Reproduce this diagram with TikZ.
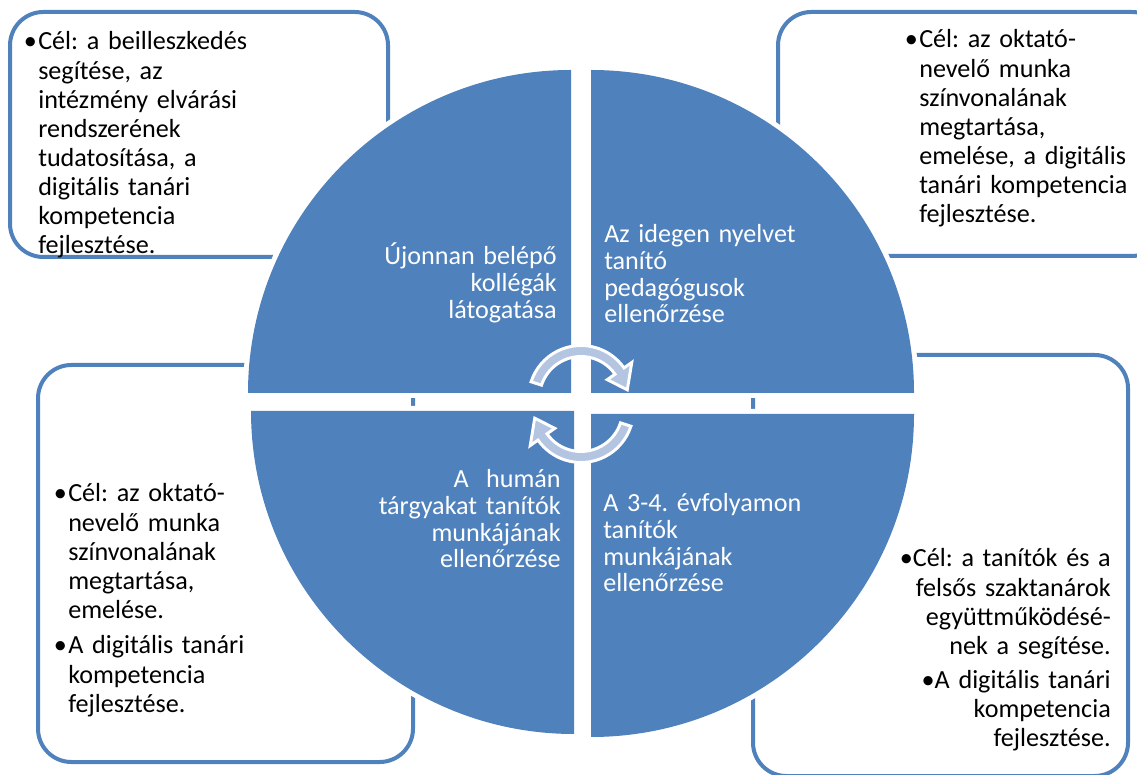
\documentclass[tikz,border=0pt]{standalone}
\usepackage{fontspec}
\setmainfont{Carlito}
\frenchspacing
\usetikzlibrary{calc}

\definecolor{qblue}{HTML}{4F81BD}
\definecolor{arrowfill}{HTML}{B4C5E1}

\tikzset{
  goalbox/.style={draw=qblue, line width=3pt, rounded corners=25pt, fill=white},
  quarter/.style={fill=qblue, preaction={draw=white, line width=7.5pt}},
  goaltext/.style={font=\fontsize{19.6}{21.8}\selectfont, inner sep=0pt, text width=300pt},
  qtext/.style={font=\fontsize{19.6}{19.9}\selectfont, text=white, inner sep=0pt, text width=220pt},
  cyclearrow/.pic={
    \path[fill=arrowfill, draw=white, line width=2.2pt, line join=miter]
      (162:52.5) arc[start angle=162, end angle=35, radius=52.5]
      -- (35:62) -- (10:47) -- (35:32) -- (35:41.5)
      arc[start angle=35, end angle=162, radius=41.5] -- cycle;
  }
}

\begin{document}
\begin{tikzpicture}[x=0.75pt, y=0.75pt]
  \useasboundingbox (0,0) rectangle (1137,774);
  \clip (0,0) rectangle (1137,774);

  % corner boxes
  \draw[goalbox] (10,517) rectangle (388,762);
  \draw[goalbox] (778,518) rectangle (1165,762);
  \draw[goalbox] (38,12) rectangle (413,409);
  \draw[goalbox] (753,-2) rectangle (1128,419);

  % the four quarters
  \path[quarter] (571,381) -- (248,381) arc[start angle=180, end angle=90, radius=323] -- cycle;
  \path[quarter] (591,381) -- (591,704) arc[start angle=90, end angle=0, radius=323] -- cycle;
  \path[quarter] (574,363) -- (251,363) arc[start angle=180, end angle=270, radius=323] -- cycle;
  \path[quarter] (591,360) -- (914,360) arc[start angle=0, end angle=-90, radius=323] -- cycle;

  % arrows in the middle
  \coordinate (cyc1) at (581,376);
  \coordinate (cyc2) at (581,364);
  \pic at (cyc1) {cyclearrow};
  \pic[rotate=180] at (cyc2) {cyclearrow};

  % texts of the quarters
  \node[qtext, anchor=base east, align=right] (ujkoll) at (557,509)
    {Újonnan belépő\\kollégák\\látogatása};
  \node[qtext, anchor=base west, align=left] (nyelv) at (604,531)
    {Az idegen nyelvet\\tanító\\pedagógusok\\ellenőrzése};
  \node[qtext, anchor=base east, align=right] (human) at (561,286)
    {A\ \ humán\hspace*{27pt}\\tárgyakat tanítók\\munkájának\\ellenőrzése};
  \node[qtext, anchor=base west, align=left] (evfolyam) at (603,262)
    {A 3-4. évfolyamon\\tanítók\\munkájának\\ellenőrzése};

  % goals in the boxes
  \node[goaltext, anchor=base west, align=left] (celUj) at (38,724)
    {\leavevmode\llap{•\kern1pt}Cél: a beilleszkedés\\segítése, az\\intézmény elvárási\\rendszerének\\tudatosítása, a\\digitális tanári\\kompetencia\\fejlesztése.};
  \node[goaltext, anchor=base west, align=left] (celNyelv) at (919,726)
    {\leavevmode\llap{•\kern1pt}Cél: az oktató-\\nevelő munka\\színvonalának\\megtartása,\\emelése, a digitális\\tanári kompetencia\\fejlesztése.};
  \node[goaltext, anchor=base west, align=left] (celHuman) at (68,272)
    {\leavevmode\llap{•\kern1pt}Cél: az oktató-\\nevelő munka\\színvonalának\\megtartása,\\emelése.\\[5pt]\leavevmode\llap{•\kern1pt}A digitális tanári\\kompetencia\\fejlesztése.};
  \node[goaltext, anchor=base east, align=right] (celEvf) at (1111,207)
    {•Cél: a tanítók és a\\felsős szaktanárok\\együttműködésé-\\nek a segítése.\\[4pt]•A digitális tanári\\kompetencia\\fejlesztése.};
\end{tikzpicture}
\end{document}
